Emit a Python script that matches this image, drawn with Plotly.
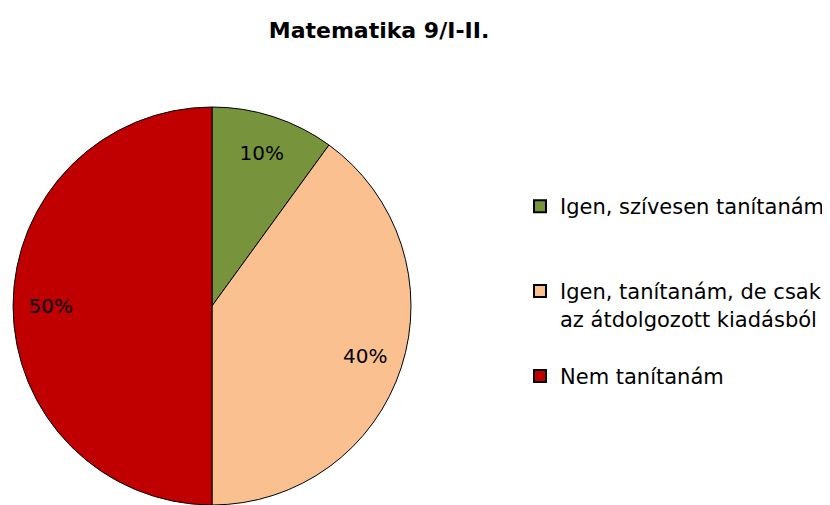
import plotly.graph_objects as go

labels = ["Igen, szívesen tanítanám<br> <br> ",
          "Igen, tanítanám, de csak<br>az átdolgozott kiadásból<br> ",
          "Nem tanítanám"]
values = [10, 40, 50]
colors = ["#77933C", "#FAC090", "#C00000"]

FONT = "DejaVu Sans, Open Sans, sans-serif"
W, H = 830, 505
OFF = 8  # page body margin offset
dom = dict(x=[(12 - OFF) / W, (412 - OFF) / W], y=[1 - (505 - OFF) / H, 1 - (107 - OFF) / H])

fig = go.Figure()
fig.add_trace(go.Pie(
    labels=labels, values=values, sort=False, direction="clockwise", rotation=0,
    marker=dict(colors=colors, line=dict(color="#000000", width=1)),
    textinfo="none", domain=dom, hoverinfo="label+percent",
))
# transparent ring used only to place percentage labels near the rim
fig.add_trace(go.Pie(
    labels=labels, values=values, sort=False, direction="clockwise", rotation=0, hole=0.62,
    marker=dict(colors=["rgba(0,0,0,0)"] * 3, line=dict(width=0)),
    texttemplate="%{percent:.0%}", textposition="inside", insidetextorientation="horizontal",
    textfont=dict(family=FONT, size=20, color="#000000"),
    domain=dom, showlegend=False, hoverinfo="skip",
))
fig.update_layout(
    width=W, height=H,
    margin=dict(l=0, r=0, t=0, b=0),
    paper_bgcolor="white", plot_bgcolor="white",
    title=dict(text="<b>Matematika 9/I-II.</b>", x=(379 - OFF) / W, xanchor="center",
               y=1 - (30 - OFF) / H, yanchor="middle",
               font=dict(family=FONT, size=22, color="#000000")),
    legend=dict(x=(520 - OFF) / W, xanchor="left", y=1 - (186 - OFF) / H, yanchor="top",
                valign="top", font=dict(family=FONT, size=21, color="#000000"),
                itemsizing="constant", tracegroupgap=0),
)
fig.write_html("out.html")
